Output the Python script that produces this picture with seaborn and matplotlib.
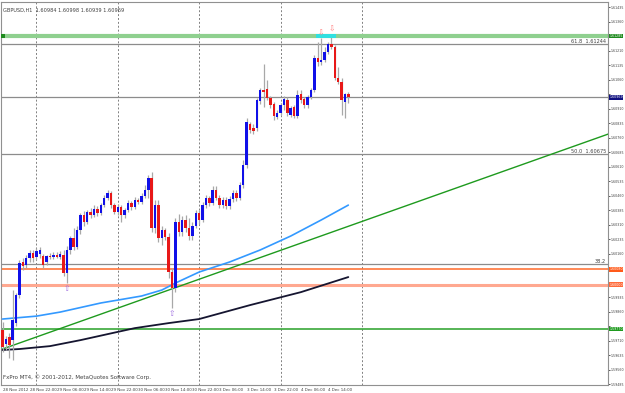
import numpy as np
import pandas as pd
import matplotlib
matplotlib.use("Agg")
import matplotlib.pyplot as plt
import seaborn as sns
from matplotlib.patches import Rectangle

# ---------------- data (GBPUSD H1) ----------------
opens = [1.59765, 1.59692, 1.59729, 1.59713, 1.59801, 1.59946, 1.60116, 1.60101, 1.60137, 1.60163,
         1.60142, 1.60158, 1.60148, 1.60117, 1.60148, 1.60142, 1.60153, 1.60142, 1.60153, 1.60060,
         1.60179, 1.60241, 1.60194, 1.60282, 1.60360, 1.60323, 1.60375, 1.60360, 1.60391, 1.60370,
         1.60411, 1.60447, 1.60473, 1.60411, 1.60375, 1.60401, 1.60360, 1.60385, 1.60422, 1.60401,
         1.60437, 1.60427, 1.60458, 1.60489, 1.60551, 1.60292, 1.60411, 1.60241, 1.60282, 1.60246,
         1.60065, 1.59982, 1.60323, 1.60272, 1.60334, 1.60292, 1.60251, 1.60303, 1.60370, 1.60334,
         1.60411, 1.60447, 1.60422, 1.60489, 1.60447, 1.60411, 1.60437, 1.60406, 1.60442, 1.60473,
         1.60447, 1.60515, 1.60618, 1.60830, 1.60809, 1.60809, 1.60949, 1.61006, 1.61011, 1.60964,
         1.60933, 1.60866, 1.60887, 1.60928, 1.60954, 1.60877, 1.60918, 1.60871, 1.60985, 1.60959,
         1.60928, 1.60970, 1.61006, 1.61171, 1.61150, 1.61161, 1.61202, 1.61244, 1.61228, 1.61068,
         1.61047, 1.60944, 1.60984]
highs = [1.59806, 1.59734, 1.59749, 1.59972, 1.59956, 1.60127, 1.60137, 1.60153, 1.60179, 1.60179,
         1.60189, 1.60194, 1.60158, 1.60153, 1.60163, 1.60168, 1.60168, 1.60173, 1.60179, 1.60199,
         1.60251, 1.60292, 1.60303, 1.60370, 1.60380, 1.60385, 1.60396, 1.60411, 1.60406, 1.60422,
         1.60463, 1.60489, 1.60484, 1.60422, 1.60416, 1.60411, 1.60396, 1.60437, 1.60432, 1.60453,
         1.60447, 1.60473, 1.60515, 1.60566, 1.60582, 1.60437, 1.60437, 1.60303, 1.60292, 1.60266,
         1.60085, 1.60344, 1.60365, 1.60354, 1.60360, 1.60344, 1.60323, 1.60385, 1.60385, 1.60427,
         1.60463, 1.60458, 1.60509, 1.60509, 1.60463, 1.60453, 1.60453, 1.60458, 1.60489, 1.60489,
         1.60530, 1.60644, 1.60861, 1.60840, 1.60830, 1.60964, 1.61016, 1.61140, 1.61057, 1.60975,
         1.60944, 1.60902, 1.60939, 1.60975, 1.60970, 1.60923, 1.60928, 1.61006, 1.61006, 1.60970,
         1.60980, 1.61016, 1.61187, 1.61254, 1.61275, 1.61228, 1.61254, 1.61295, 1.61238, 1.61125,
         1.61068, 1.60990, 1.60998]
lows = [1.59651, 1.59662, 1.59620, 1.59610, 1.59786, 1.59930, 1.60075, 1.60085, 1.60117, 1.60117,
        1.60127, 1.60137, 1.60085, 1.60101, 1.60132, 1.60132, 1.60137, 1.60132, 1.60044, 1.60008,
        1.60158, 1.60179, 1.60184, 1.60261, 1.60303, 1.60313, 1.60344, 1.60349, 1.60354, 1.60360,
        1.60401, 1.60437, 1.60396, 1.60365, 1.60360, 1.60323, 1.60344, 1.60375, 1.60385, 1.60391,
        1.60416, 1.60416, 1.60447, 1.60447, 1.60272, 1.60266, 1.60220, 1.60204, 1.60230, 1.60034,
        1.59879, 1.59961, 1.60251, 1.60251, 1.60272, 1.60230, 1.60230, 1.60292, 1.60313, 1.60323,
        1.60396, 1.60406, 1.60411, 1.60437, 1.60396, 1.60396, 1.60391, 1.60391, 1.60427, 1.60432,
        1.60437, 1.60499, 1.60602, 1.60783, 1.60778, 1.60794, 1.60933, 1.60918, 1.60954, 1.60913,
        1.60851, 1.60856, 1.60877, 1.60902, 1.60871, 1.60866, 1.60861, 1.60861, 1.60939, 1.60913,
        1.60913, 1.60959, 1.60995, 1.61130, 1.61135, 1.61150, 1.61192, 1.61218, 1.61057, 1.61037,
        1.60877, 1.60861, 1.60939]
closes = [1.59677, 1.59718, 1.59687, 1.59817, 1.59946, 1.60111, 1.60096, 1.60137, 1.60163, 1.60137,
          1.60173, 1.60179, 1.60101, 1.60148, 1.60142, 1.60153, 1.60142, 1.60158, 1.60060, 1.60179,
          1.60241, 1.60194, 1.60282, 1.60360, 1.60323, 1.60375, 1.60360, 1.60391, 1.60370, 1.60411,
          1.60447, 1.60473, 1.60411, 1.60375, 1.60401, 1.60360, 1.60385, 1.60422, 1.60401, 1.60437,
          1.60427, 1.60458, 1.60489, 1.60551, 1.60292, 1.60411, 1.60241, 1.60282, 1.60246, 1.60065,
          1.59982, 1.60323, 1.60272, 1.60334, 1.60292, 1.60251, 1.60303, 1.60370, 1.60334, 1.60411,
          1.60447, 1.60422, 1.60489, 1.60447, 1.60411, 1.60437, 1.60406, 1.60442, 1.60473, 1.60447,
          1.60515, 1.60618, 1.60840, 1.60799, 1.60794, 1.60954, 1.61006, 1.60995, 1.60964, 1.60928,
          1.60871, 1.60887, 1.60928, 1.60959, 1.60887, 1.60913, 1.60871, 1.60980, 1.60954, 1.60928,
          1.60970, 1.61006, 1.61171, 1.61150, 1.61161, 1.61202, 1.61244, 1.61228, 1.61068, 1.61047,
          1.60954, 1.60985, 1.60969]

# moving averages read at sample bars
ma_blue_bars = [0, 10, 17, 29, 41, 47, 51, 58, 67, 76, 85, 94, 102]
ma_blue_vals = [1.59822, 1.59837, 1.59858, 1.59905, 1.59941, 1.59972, 1.60008, 1.60065,
                1.60117, 1.60179, 1.60251, 1.60334, 1.60411]
ma_black_bars = [0, 5, 14, 23, 39, 49, 58, 73, 88, 102]
ma_black_vals = [1.59662, 1.59667, 1.59682, 1.59713, 1.59775, 1.59801, 1.59822, 1.59894,
                 1.59961, 1.60039]

# trendline anchors (bar, price)
trend_bars = [0, 50]
trend_vals = [1.59667, 1.59978]

# horizontal levels
level_green_top = 1.61285
fib_levels = [("61.8  1.61244", 1.61244), ("50.0  1.60675", 1.60675), ("38.2", 1.60106)]
bid_price = 1.60969
level_orange = 1.60080
level_salmon = 1.60000
level_green_low = 1.59770

day_sep_bars = [10, 34, 58, 82, 106]
time_labels = ["28 Nov 2012", "28 Nov 22:00", "29 Nov 06:00", "29 Nov 14:00", "29 Nov 22:00",
               "30 Nov 06:00", "30 Nov 14:00", "30 Nov 22:00", "3 Dec 06:00", "3 Dec 14:00",
               "3 Dec 22:00", "4 Dec 06:00", "4 Dec 14:00"]
price_ticks = [1.61435, 1.61360, 1.61285, 1.61210, 1.61135, 1.61060, 1.60985, 1.60910, 1.60835,
               1.60760, 1.60685, 1.60610, 1.60535, 1.60460, 1.60385, 1.60310, 1.60235, 1.60160,
               1.60085, 1.60010, 1.59935, 1.59860, 1.59785, 1.59710, 1.59635, 1.59560, 1.59485]
fractal_down = [(94, 1.61275), (97, 1.61295)]
fractal_up = [(19, 1.60008), (50, 1.59879)]

# ---------------- figure ----------------
sns.set_style("white")
plt.rcParams['font.family'] = ['DejaVu Sans']
W, H = 625, 393
fig = plt.figure(figsize=(W / 100, H / 100), dpi=100)
ax = fig.add_axes([1 / W, (H - 385) / H, (608 - 1) / W, (385 - 2) / H])
ax.set_xlim(-0.45, 178.6)
ax.set_ylim(1.59481, 1.61461)

df = pd.DataFrame({"bar": np.arange(len(opens)), "open": opens, "high": highs,
                   "low": lows, "close": closes})

# day separators
for b in day_sep_bars:
    ax.axvline(b, color="#808080", lw=0.7, ls=(0, (2, 2)), zorder=1)

# horizontal levels
ax.axhline(level_green_top, color="#8fd08f", lw=3, zorder=2)
for txt, v in fib_levels:
    ax.axhline(v, color="#8c8c8c", lw=0.9, zorder=2)
    ax.text(0.997, v, txt, transform=ax.get_yaxis_transform(), ha="right", va="bottom",
            fontsize=3.6, color="#404040")
ax.axhline(bid_price, color="#8c8c8c", lw=0.9, zorder=2)
ax.axhline(level_orange, color="#ff6a2a", lw=1.1, zorder=2)
ax.axhline(level_salmon, color="#ffa890", lw=2.2, zorder=2)
ax.axhline(level_green_low, color="#3aa83a", lw=1.2, zorder=2)

# trendline extended
slope = (trend_vals[1] - trend_vals[0]) / (trend_bars[1] - trend_bars[0])
tl = pd.DataFrame({"bar": [trend_bars[0], 179.0]})
tl["price"] = trend_vals[0] + slope * (tl["bar"] - trend_bars[0])
sns.lineplot(data=tl, x="bar", y="price", ax=ax, color="#1e9a1e", lw=1.0, zorder=3)

# moving averages
mb = pd.DataFrame({"bar": ma_blue_bars, "price": ma_blue_vals})
sns.lineplot(data=mb, x="bar", y="price", ax=ax, color="#3399ff", lw=1.2, zorder=3)
mk = pd.DataFrame({"bar": ma_black_bars, "price": ma_black_vals})
sns.lineplot(data=mk, x="bar", y="price", ax=ax, color="#151530", lw=1.3, zorder=3)

# candles
ax.vlines(df["bar"], df["low"], df["high"], color="#a8a8a8", lw=0.9, zorder=4)
up = df["close"] >= df["open"]
body_lo = np.minimum(df["open"], df["close"])
body_h = np.maximum(np.abs(df["close"] - df["open"]), 0.00003)
ax.bar(df["bar"][up], body_h[up], bottom=body_lo[up], width=0.72, color="#1010e8",
       linewidth=0, zorder=5)
ax.bar(df["bar"][~up], body_h[~up], bottom=body_lo[~up], width=0.72, color="#e81818",
       linewidth=0, zorder=5)

# fractal markers
for b, v in fractal_down:
    ax.add_patch(Rectangle((b - 1.5, level_green_top - 0.00012), 3.0, 0.00024,
                           color="#30e0e0", zorder=6, lw=0))
    ax.text(b, v + 0.00004, "⇩", ha="center", va="bottom", fontsize=5.5, color="#ff8080", zorder=7)
for b, v in fractal_up:
    ax.text(b, v - 0.00006, "⇧", ha="center", va="top", fontsize=5.5, color="#a070e0", zorder=7)

# small left marker on green line
ax.add_patch(Rectangle((-0.45, level_green_top - 0.0001), 1.2, 0.0002, color="#1e8a1e", zorder=6, lw=0))

# texts
ax.text(0.004, 0.985, "GBPUSD,H1  1.60984 1.60998 1.60939 1.60969", transform=ax.transAxes,
        fontsize=3.6, color="#404040", va="top", ha="left")
ax.text(0.004, 0.012, "FxPro MT4, © 2001-2012, MetaQuotes Software Corp.", transform=ax.transAxes,
        fontsize=4.0, color="#404040", va="bottom", ha="left")

# highlighted price tags
tags = [(level_green_top, "1.61285", "#1e8a1e"), (bid_price, "1.60969", "#101080"),
        (level_orange, "1.60080", "#ff5a1a"), (level_salmon, "1.60000", "#ff6a3a"),
        (level_green_low, "1.59770", "#1e9a1e")]
tag_vals = [t[0] for t in tags]

# axes styling: tick labels hidden where a tag covers them
ax.yaxis.tick_right()
ax.set_yticks(price_ticks)
ax.set_yticklabels(["" if min(abs(p - v) for v in tag_vals) < 0.0002 else f"{p:.5f}"
                    for p in price_ticks], fontsize=2.35, color="#404040")
ax.tick_params(axis="y", length=1.2, width=0.6, pad=0.6, colors="#404040")
ax.set_xticks(np.arange(0, 8 * len(time_labels), 8))
ax.set_xticklabels(time_labels, fontsize=2.9, color="#404040", ha="left")
ax.tick_params(axis="x", length=2, width=0.6, pad=0.5, colors="#404040")
ax.set_xlabel("")
ax.set_ylabel("")
for s in ax.spines.values():
    s.set_color("#909090")
    s.set_linewidth(0.8)
ax.spines["right"].set_linestyle((0, (1, 1)))

for v, t, c in tags:
    ax.text(1.002, v, t, transform=ax.get_yaxis_transform(), ha="left", va="center",
            fontsize=2.35, color="white", zorder=10, clip_on=False,
            bbox=dict(boxstyle="square,pad=0.12", fc=c, ec="none"))

fig.savefig("out.png", dpi=100, facecolor="white")
